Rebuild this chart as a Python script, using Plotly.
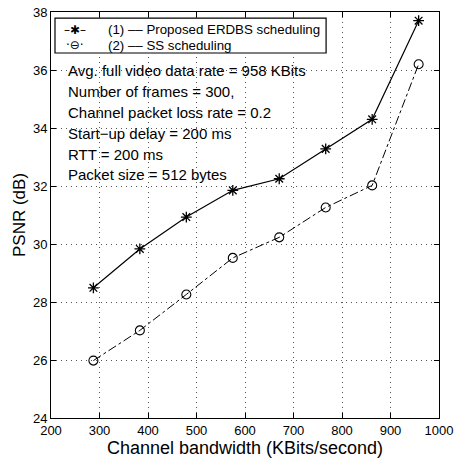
import plotly.graph_objects as go

bandwidth = [287.4, 383.2, 479.0, 574.8, 670.6, 766.4, 862.2, 958.0]
psnr_erdbs = [28.49, 29.83, 30.93, 31.85, 32.25, 33.28, 34.30, 37.70]
psnr_ss = [25.98, 27.02, 28.26, 29.52, 30.23, 31.26, 32.02, 36.20]
legend_labels = ["(1) \u2013\u2013 Proposed ERDBS scheduling", "(2) \u2013\u2013 SS scheduling"]
legend_symbols = ["\u2013\u2731\u2013", "\u00b7\u2296\u00b7"]
info_lines = [
    "Avg. full video data rate = 958 KBits",
    "Number of frames = 300,",
    "Channel packet loss rate = 0.2",
    "Start\u2212up delay = 200 ms",
    "RTT = 200 ms",
    "Packet size = 512 bytes",
]

FONT = "Liberation Sans, Arial, sans-serif"
fig = go.Figure()
fig.add_trace(go.Scatter(
    x=bandwidth, y=psnr_erdbs, mode="lines+markers",
    name=legend_labels[0],
    line=dict(color="black", width=1.2),
    marker=dict(symbol="asterisk-open", size=9, color="black",
                line=dict(color="black", width=1.3)),
))
fig.add_trace(go.Scatter(
    x=bandwidth, y=psnr_ss, mode="lines+markers",
    name=legend_labels[1],
    line=dict(color="black", width=1.0, dash="dashdot"),
    marker=dict(symbol="circle-open", size=9, color="black",
                line=dict(color="black", width=1.1)),
))

# legend box (drawn as text inside a frame)
fig.add_shape(type="rect", xref="paper", yref="paper",
              x0=0.0103, x1=0.709, y0=0.899, y1=0.985,
              line=dict(color="black", width=1.2), fillcolor="white", layer="above")
legend_rows_y = [0.9557, 0.9187]
for sym, lab, yy in zip(legend_symbols, legend_labels, legend_rows_y):
    fig.add_annotation(x=0.062, xref="paper", y=yy, yref="paper", text=sym,
                       showarrow=False, xanchor="center", yanchor="middle",
                       font=dict(family="DejaVu Sans", size=12, color="black"))
    fig.add_annotation(x=0.1418, xref="paper", y=yy, yref="paper", text=lab,
                       showarrow=False, xanchor="left", yanchor="middle",
                       font=dict(family=FONT, size=13.3, color="black"))

for i, t in enumerate(info_lines):
    fig.add_annotation(
        x=0.038, xref="paper", y=35.98 - i * 0.72, yref="y",
        text=t, showarrow=False, xanchor="left", yanchor="middle",
        font=dict(family=FONT, size=15, color="black"),
    )

axis_common = dict(
    showline=True, linecolor="black", linewidth=1, mirror="ticks",
    ticks="inside", ticklen=5, tickcolor="black", automargin=False,
    showgrid=True, gridcolor="#555", griddash="1px,4px", gridwidth=1,
    zeroline=False, tickfont=dict(family=FONT, size=13, color="black"),
)
fig.update_xaxes(range=[200, 1000], dtick=100, tick0=200,
                 title=dict(text="Channel bandwidth (KBits/second)",
                            font=dict(family=FONT, size=18, color="black"),
                            standoff=0),
                 **axis_common)
fig.update_yaxes(range=[24, 38], dtick=2, tick0=24,
                 title=dict(text="PSNR (dB)",
                            font=dict(family=FONT, size=17, color="black"),
                            standoff=2),
                 **axis_common)

fig.update_layout(
    width=455, height=464,
    margin=dict(l=51, r=16, t=12, b=46, autoexpand=False),
    paper_bgcolor="white", plot_bgcolor="white",
    showlegend=False,
    font=dict(family=FONT, color="black"),
)

fig.write_html("out.html")
